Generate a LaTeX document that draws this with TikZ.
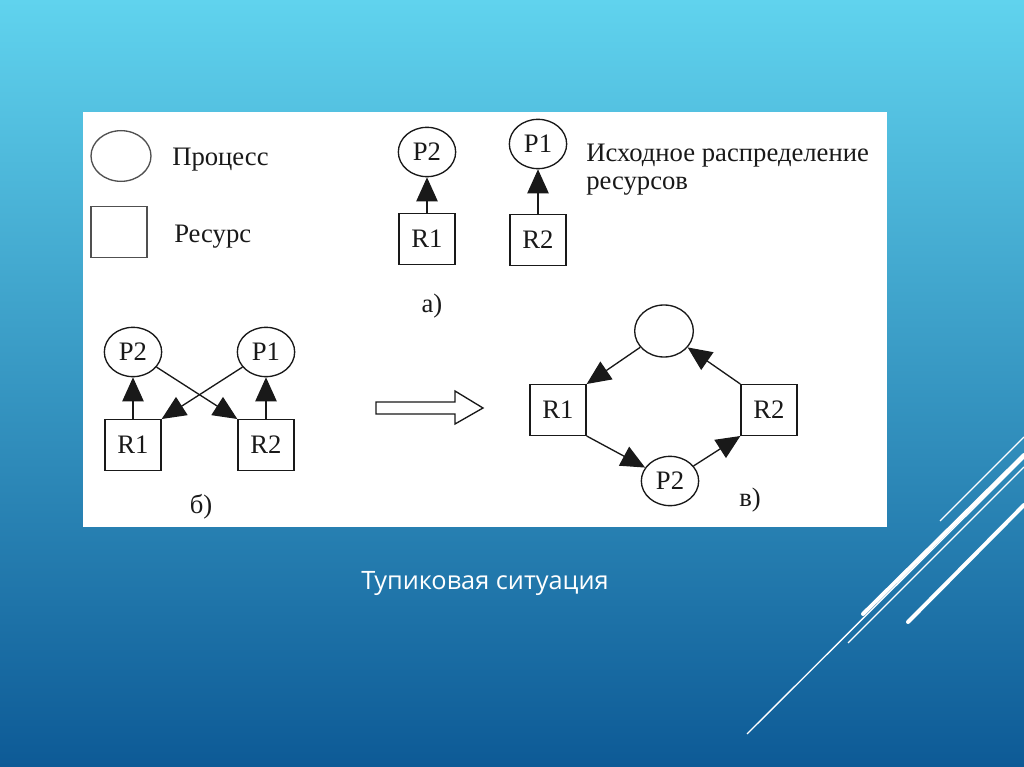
\documentclass[tikz,border=0pt]{standalone}
\usepackage{fontspec}
\setmainfont{Liberation Serif}
\newfontfamily\capfont{Open Sans}
\usetikzlibrary{arrows.meta,shapes.geometric,positioning}
\definecolor{bgtop}{RGB}{96,211,238}
\definecolor{bgmid}{RGB}{48,148,198}
\definecolor{bgbot}{RGB}{13,90,150}
\definecolor{ink}{RGB}{25,25,25}
\definecolor{legink}{RGB}{80,80,80}
\tikzset{
  proc/.style={ellipse, draw=ink, line width=1pt, minimum width=43pt,
    minimum height=37pt, inner sep=0pt, text=ink, font=\fontsize{20}{20}\selectfont},
  res/.style={rectangle, draw=ink, line width=1pt, minimum width=42pt,
    minimum height=38pt, inner sep=0pt, text=ink, font=\fontsize{20}{20}\selectfont},
  lbl/.style={inner sep=0pt, text=ink, font=\fontsize{20}{23}\selectfont},
  link/.style={draw=ink, line width=1pt, -{Triangle[length=18pt,width=16pt]}},
  deco/.style={white, line width=1pt},
  decothick/.style={white, line width=3pt, line cap=round}
}
\begin{document}
\begin{tikzpicture}[x=0.75pt,y=-0.75pt]
\useasboundingbox (0,0) rectangle (1024,767);
% slide background
\shade[top color=bgtop, middle color=bgmid, bottom color=bgbot] (0,0) rectangle (1024,767);
\fill[white] (83,112) rectangle (887,527);
% legend
\node[proc, draw=legink, minimum width=45pt, minimum height=38pt] (legP) at (121,156) {};
\node[res, draw=legink] (legR) at (119,232) {};
\node[lbl, anchor=west] (legPt) at (172,160) {Процесс};
\node[lbl, anchor=west] (legRt) at (174,237) {Ресурс};
% a) initial allocation
\node[proc] (aP2) at (427,152) {P2};
\node[res] (aR1) at (427,239) {R1};
\node[proc] (aP1) at (538,144) {P1};
\node[res] (aR2) at (538,240) {R2};
\draw[link] (aR1) -- (aP2);
\draw[link] (aR2) -- (aP1);
\node[lbl, anchor=west] (aTxt1) at (586,156) {Исходное распределение};
\node[lbl, anchor=west] (aTxt2) at (586,186) {ресурсов};
\node[lbl] (aLab) at (432,306) {а)};
% b) requests
\node[proc] (bP2) at (133,352) {P2};
\node[proc] (bP1) at (266,352) {P1};
\node[res] (bR1) at (133,445) {R1};
\node[res] (bR2) at (266,445) {R2};
\draw[link] (bR1) -- (bP2);
\draw[link] (bR2) -- (bP1);
\draw[link] (bP2) -- (bR2.north west);
\draw[link] (bP1) -- (bR1.north east);
\node[lbl] (bLab) at (201,507) {б)};
% hollow arrow
\draw[draw=ink, line width=1pt, fill=white] (376,402) -- (455,402) -- (455,391)
  -- (483,408) -- (455,424) -- (455,414) -- (376,414) -- cycle;
% c) deadlock cycle
\node[proc, minimum width=44pt, minimum height=39pt] (cPt) at (664,331) {};
\node[res] (cR1) at (558,410) {R1};
\node[res] (cR2) at (769,410) {R2};
\node[proc] (cP2) at (670,481) {P2};
\draw[link] (cPt) -- (cR1.north east);
\draw[link] (cR2.north west) -- (cPt);
\draw[link] (cR1.south east) -- (cP2);
\draw[link] (cP2) -- (cR2.south west);
\node[lbl] (cLab) at (750,500) {в)};
% caption
\node[text=white, font=\capfont\fontsize{19}{19}\selectfont] (cap) at (485,583) {Тупиковая ситуация};
% corner lines
\draw[deco] (940,521) -- (1024,437);
\draw[decothick] (863,614) -- (1024,455);
\draw[deco] (747,734) -- (1024,458);
\draw[deco] (848,643) -- (1024,467);
\draw[decothick] (908,622) -- (1024,505);
\end{tikzpicture}
\end{document}
